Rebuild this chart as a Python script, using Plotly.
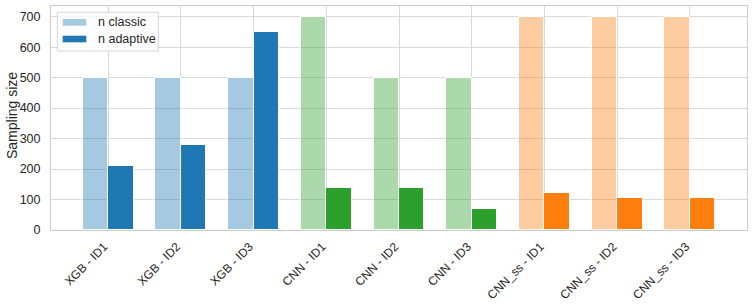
import plotly.graph_objects as go

categories = ["XGB - ID1", "XGB - ID2", "XGB - ID3",
              "CNN - ID1", "CNN - ID2", "CNN - ID3",
              "CNN_ss - ID1", "CNN_ss - ID2", "CNN_ss - ID3"]
n_classic = [500, 500, 500, 700, 500, 500, 700, 700, 700]
n_adaptive = [211, 280, 650, 137, 137, 68, 120, 104, 104]
base_colors = ["#1f77b4"] * 3 + ["#2ca02c"] * 3 + ["#ff7f0e"] * 3
legend_labels = ["n classic", "n adaptive"]
y_title = "Sampling size"

def rgba(h, a):
    h = h.lstrip("#")
    r, g, b = int(h[0:2], 16), int(h[2:4], 16), int(h[4:6], 16)
    return f"rgba({r},{g},{b},{a})"

W, H = 753, 307
ML, MR, MT, MB = 51, 6, 6, 77
PW, PH = W - ML - MR, H - MT - MB

def px(x):
    return (x - ML) / PW

def py(y):
    return (H - MB - y) / PH

xs = list(range(len(categories)))
w = 0.35

fig = go.Figure()
fig.add_trace(go.Bar(
    x=[x - w / 2 for x in xs], y=n_classic, width=w,
    marker=dict(color=[rgba(c, 0.4) for c in base_colors],
                line=dict(color="white", width=1)),
    name=legend_labels[0], showlegend=False))
fig.add_trace(go.Bar(
    x=[x + w / 2 for x in xs], y=n_adaptive, width=w,
    marker=dict(color=base_colors, line=dict(color="white", width=1)),
    name=legend_labels[1], showlegend=False))

# manual legend (matplotlib-like)
shapes = [
    dict(type="rect", xref="paper", yref="paper",
         x0=px(57.3), x1=px(158.3), y0=py(51), y1=py(12.3),
         line=dict(color="#d5d5d5", width=1), fillcolor="rgba(255,255,255,0.8)",
         layer="above"),
    dict(type="rect", xref="paper", yref="paper",
         x0=px(62.7), x1=px(86.3), y0=py(25.7), y1=py(19),
         line=dict(width=0), fillcolor=rgba("#1f77b4", 0.4), layer="above"),
    dict(type="rect", xref="paper", yref="paper",
         x0=px(62.7), x1=px(86.3), y0=py(42.3), y1=py(35.7),
         line=dict(width=0), fillcolor="#1f77b4", layer="above"),
]
annotations = [
    dict(text=legend_labels[0], xref="paper", yref="paper", x=px(96), y=py(22.3),
         xanchor="left", yanchor="middle", showarrow=False,
         font=dict(size=12.5, color="#262626")),
    dict(text=legend_labels[1], xref="paper", yref="paper", x=px(96), y=py(39),
         xanchor="left", yanchor="middle", showarrow=False,
         font=dict(size=12.5, color="#262626")),
    dict(text=y_title, xref="paper", yref="paper", x=px(12), y=py(116),
         xanchor="center", yanchor="middle", textangle=-90, showarrow=False,
         font=dict(size=14, color="#262626")),
]

fig.update_layout(
    width=W, height=H,
    margin=dict(l=ML, r=MR, t=MT, b=MB, autoexpand=False),
    plot_bgcolor="white", paper_bgcolor="white",
    font=dict(family="Liberation Sans, Arial, sans-serif", size=12, color="#262626"),
    barmode="overlay",
    bargap=0,
    showlegend=False,
    shapes=shapes,
    annotations=annotations,
    xaxis=dict(
        tickmode="array", tickvals=xs, ticktext=categories,
        tickangle=-45, range=[-0.785, 8.785], automargin=False,
        showgrid=True, gridcolor="#d9d9d9", gridwidth=1,
        showline=True, linecolor="#cccccc", mirror=True, linewidth=1,
        zeroline=False, ticks="", tickfont=dict(size=12),
        ticklabelshift=-4, ticklabelstandoff=4,
    ),
    yaxis=dict(
        range=[0, 735], tickvals=[0, 100, 200, 300, 400, 500, 600, 700],
        automargin=False,
        showgrid=True, gridcolor="#d9d9d9", gridwidth=1,
        showline=True, linecolor="#cccccc", mirror=True, linewidth=1,
        zeroline=False, ticks="", tickfont=dict(size=12.5),
        ticklabelstandoff=7,
    ),
)

fig.write_html("out.html")
